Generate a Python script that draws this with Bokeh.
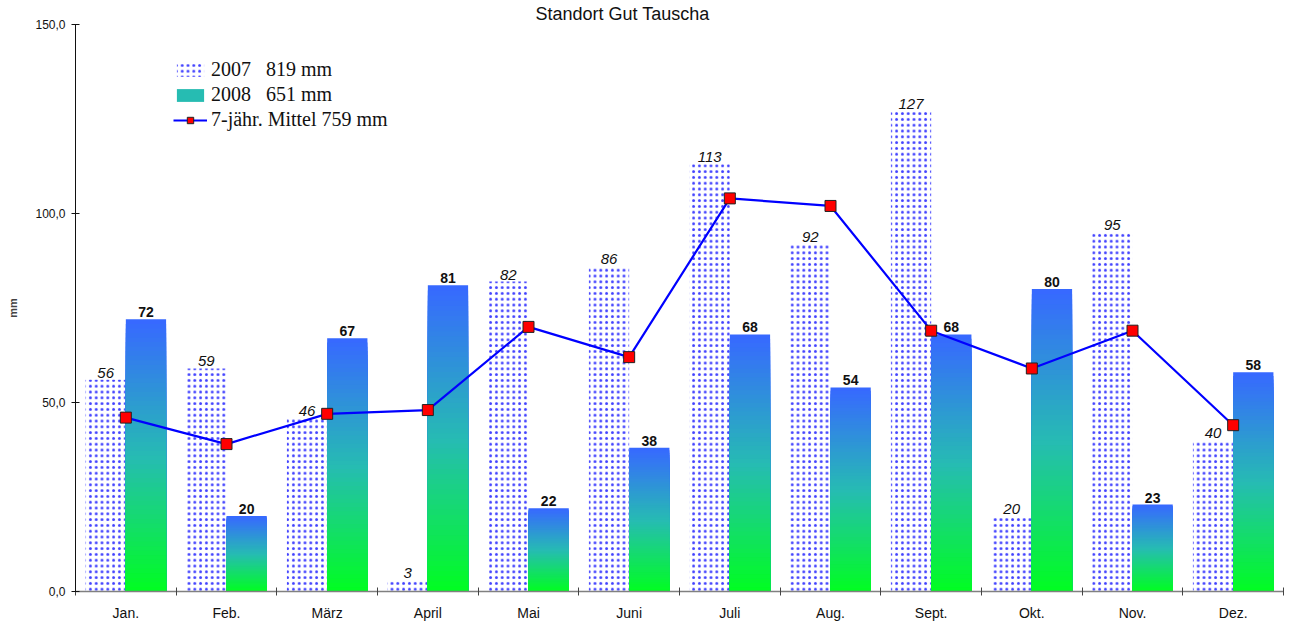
from bokeh.plotting import figure
from bokeh.models import (Range1d, FixedTicker, Legend, LegendItem, Title,
                          ColumnDataSource)
from bokeh.core.properties import value
from bokeh.embed import file_html
from bokeh.resources import INLINE

months = ["Jan.", "Feb.", "März", "April", "Mai", "Juni", "Juli", "Aug.",
          "Sept.", "Okt.", "Nov.", "Dez."]
rain_2007 = [56, 59, 46, 3, 82, 86, 113, 92, 127, 20, 95, 40]
rain_2008 = [72, 20, 67, 81, 22, 38, 68, 54, 68, 80, 23, 58]
mean_7y = [46, 39, 47, 48, 70, 62, 104, 102, 69, 59, 69, 44]
ytick_values = [0, 50, 100, 150]
ytick_labels = ["0,0", "50,0", "100,0", "150,0"]
legend_labels = ["2007   819 mm", "2008   651 mm", "7-jähr. Mittel 759 mm"]
title_text = "Standort  Gut Tauscha"

FONT = "Liberation Sans"
SERIF = "Liberation Serif"

p = figure(width=1293, height=623, output_backend="svg", toolbar_location=None,
           x_range=Range1d(0, 12), y_range=Range1d(0, 150),
           min_border_left=75, min_border_right=10, min_border_top=24,
           min_border_bottom=32)
p.outline_line_color = None
p.xgrid.visible = False
p.ygrid.visible = False

title = Title(text=title_text, align="left", offset=460, standoff=2,
              text_font=FONT, text_font_size="18px", text_font_style="normal",
              text_color="#111111")
p.add_layout(title, "above")

n = len(months)
idx = list(range(n))

# 2007 bars: dotted pattern
src07 = ColumnDataSource(dict(left=[i + 0.1 for i in idx], right=[i + 0.5 for i in idx],
                              top=rain_2007, bottom=[0] * n))
r07 = p.quad(left="left", right="right", top="top", bottom="bottom", source=src07,
             fill_color="white", line_color=None, hatch_pattern="dot",
             hatch_color="#4040ff", hatch_scale=5.8, hatch_weight=1.3)

# 2008 bars: vertical gradient (green bottom -> blue top), drawn as nested rects
stops = [(0.0, (0, 255, 30)), (0.5, (38, 188, 178)), (1.0, (55, 105, 255))]


def grad(t):
    for (t0, c0), (t1, c1) in zip(stops[:-1], stops[1:]):
        if t <= t1:
            f = (t - t0) / (t1 - t0)
            return "#%02x%02x%02x" % tuple(int(round(a + (b - a) * f)) for a, b in zip(c0, c1))
    return "#%02x%02x%02x" % stops[-1][1]


N = 60
gl, gr, gt, gc = [], [], [], []
for k in range(N, 0, -1):
    for i in idx:
        gl.append(i + 0.5)
        gr.append(i + 0.9)
        gt.append(rain_2008[i] * k / N)
        gc.append(grad(k / N))
srcg = ColumnDataSource(dict(left=gl, right=gr, top=gt, bottom=[0] * len(gl), color=gc))
r08 = p.quad(left="left", right="right", top="top", bottom="bottom", source=srcg,
             fill_color="color", line_color=None)

# 7-year mean line
centers = [i + 0.5 for i in idx]
rl = p.line(centers, mean_7y, line_color="#0000ff", line_width=2.2)
rs = p.scatter(centers, mean_7y, marker="square", size=11, fill_color="#ff0000",
               line_color="#222222", line_width=1)

# data labels
p.text(x=[i + 0.3 for i in idx], y=rain_2007, text=[str(v) for v in rain_2007],
       text_font=value(FONT), text_font_size="15px", text_font_style="italic",
       text_align="center", text_baseline="alphabetic", y_offset=-7, text_color="#111111")
p.text(x=[i + 0.7 for i in idx], y=rain_2008, text=[str(v) for v in rain_2008],
       text_font=value(FONT), text_font_size="14px", text_font_style="bold",
       text_align="center", text_baseline="alphabetic", y_offset=-7, text_color="#111111")

# axes
p.xaxis.ticker = FixedTicker(ticks=[i + 0.5 for i in idx], minor_ticks=list(range(n + 1)))
p.xaxis.major_label_overrides = {i + 0.5: m for i, m in zip(idx, months)}
p.xaxis.major_tick_line_color = None
p.xaxis.major_tick_in = 0
p.xaxis.major_tick_out = 0
p.xaxis.minor_tick_in = 4
p.xaxis.minor_tick_out = 4
p.xaxis.minor_tick_line_color = "#444444"
p.xaxis.axis_line_color = "#808080"
p.xaxis.axis_line_width = 1.5
p.xaxis.major_label_standoff = 9
p.xaxis.major_label_text_font = FONT
p.xaxis.major_label_text_font_size = "14px"
p.xaxis.major_label_text_color = "#111111"

p.yaxis.ticker = FixedTicker(ticks=ytick_values, minor_ticks=[])
p.yaxis.major_label_overrides = {v: l for v, l in zip(ytick_values, ytick_labels)}
p.yaxis.major_tick_in = 4
p.yaxis.major_tick_out = 4
p.yaxis.major_tick_line_color = "#111111"
p.yaxis.axis_line_color = "#111111"
p.yaxis.major_label_standoff = 6
p.yaxis.major_label_text_font = FONT
p.yaxis.major_label_text_font_size = "12px"
p.yaxis.major_label_text_color = "#111111"
p.yaxis.axis_label = "mm"
p.yaxis.axis_label_text_font = FONT
p.yaxis.axis_label_text_font_size = "11px"
p.yaxis.axis_label_text_font_style = "bold"
p.yaxis.axis_label_standoff = 13

# legend
legend = Legend(items=[LegendItem(label=legend_labels[0], renderers=[r07]),
                       LegendItem(label=legend_labels[1], renderers=[r08], index=N * n // 2),
                       LegendItem(label=legend_labels[2], renderers=[rl, rs])],
                location=(98, 460), orientation="vertical")
legend.background_fill_alpha = 0
legend.border_line_color = None
legend.padding = 0
legend.margin = 0
legend.spacing = 2
legend.label_height = 22
legend.glyph_height = 16
legend.glyph_width = 34
legend.label_standoff = 4
legend.label_text_font = SERIF
legend.label_text_font_size = "20px"
legend.label_text_color = "#111111"
p.add_layout(legend)

open("out.html", "w").write(file_html(p, INLINE))
